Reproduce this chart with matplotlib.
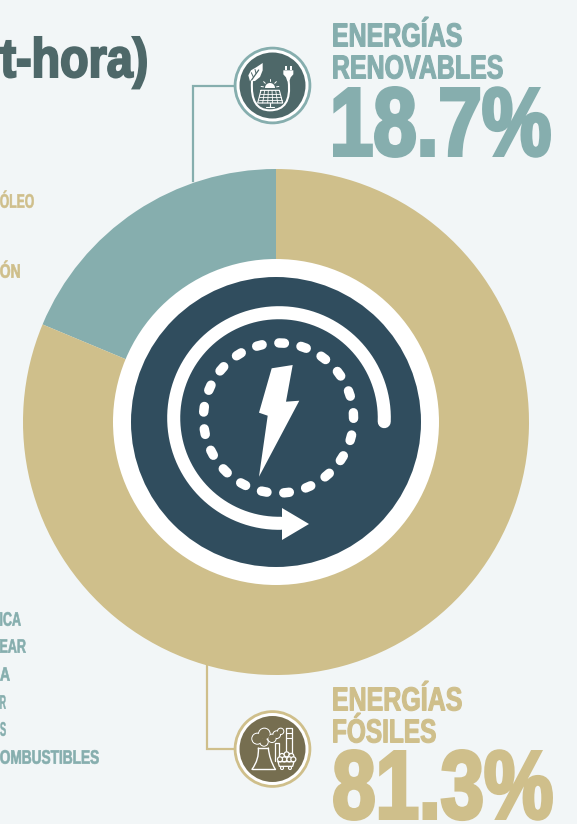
import matplotlib
matplotlib.use("Agg")
import matplotlib.pyplot as plt
import numpy as np
from matplotlib.font_manager import FontProperties
from matplotlib.patches import Circle, Polygon, PathPatch
from matplotlib.path import Path
from matplotlib.patheffects import AbstractPathEffect
from matplotlib.textpath import TextPath
from matplotlib.transforms import Affine2D

W, H = 577, 824
BG = "#f2f6f7"
TEAL = "#86aeae"
SAND = "#cfbf8b"
NAVY = "#304d5e"
SLATE = "#4e6869"
OLIVE = "#766e50"

labels = ["Energías renovables", "Energías fósiles"]
shares = [18.7, 81.3]
share_texts = ["18.7%", "81.3%"]
title_fragment = "t-hora)"
left_sand = ["ÓLEO", "ÓN"]
left_teal = ["ICA", "EAR", "A", "R", "S", "OMBUSTIBLES"]

def Y(y):
    return H - y

class Heavy(AbstractPathEffect):
    """Scale glyphs vertically about the baseline and thicken them (heavy condensed look)."""
    def __init__(self, sy, y0, stroke_px, shift=0):
        super().__init__()
        self.sy, self.y0, self.stroke, self.shift = sy, y0, stroke_px, shift
    def draw_path(self, renderer, gc, tpath, affine, rgbFace=None):
        a = affine + Affine2D().translate(0, -self.y0).scale(1, self.sy).translate(0, self.y0 - self.shift)
        gc0 = renderer.new_gc()
        gc0.copy_properties(gc)
        gc0.set_foreground(rgbFace)
        gc0.set_linewidth(self.stroke*0.72)
        gc0.set_joinstyle("miter")
        renderer.draw_path(gc0, tpath, a, rgbFace)
        gc0.restore()

fig = plt.figure(figsize=(W/100, H/100), dpi=100, facecolor=BG)
ax = fig.add_axes([0, 0, 1, 1])

FONT = FontProperties(family="Liberation Sans", weight="bold")
CAP = 0.688
BOLD = 0.045
def fit(x, base, s, width, cap, color, shift=0):
    """Real text, sized to the measured width, stretched to the measured cap height."""
    unit = TextPath((0, 0), s, size=1, prop=FONT).get_extents()
    em = width / (unit.width + BOLD)
    b = BOLD*em
    y = Y(base) + b/2 + shift
    ax.text(x + b/2 - unit.x0*em, y, s, fontsize=em*0.72, color=color, fontproperties=FONT,
            ha="left", va="baseline", zorder=8,
            path_effects=[Heavy((cap - b)/(CAP*em), y, b, shift)])

# donut
ax.pie(shares, colors=[TEAL, SAND], startangle=90, counterclock=True, center=(276, Y(422)),
       radius=253, wedgeprops=dict(linewidth=0), frame=False)
ax.set_aspect("auto"); ax.set_xlim(0, W); ax.set_ylim(0, H); ax.axis("off")
ax.add_patch(Circle((276, Y(422)), 163, fc="white", ec="none", zorder=3))
ax.add_patch(Circle((276, Y(422)), 145, fc=NAVY, ec="none", zorder=4))

# arrow arc
cx, cy, r = 279, 418, 105.3
a = np.radians(np.linspace(-2, 271, 300))
ax.plot(cx + r*np.cos(a), Y(cy) + r*np.sin(a), color="white", lw=9.4, solid_capstyle="round", zorder=5)
ax.add_patch(Polygon([(282, Y(508)), (309, Y(524)), (282, Y(540))], fc="white", ec="none", zorder=6))
# dashed ring
for k in range(21):
    th = np.radians(2.4 + k*360/21)
    x, y = 278.5 + 75*np.sin(th), Y(418) + 75*np.cos(th)
    dx, dy = np.cos(th)*2.8, -np.sin(th)*2.8
    ax.plot([x-dx, x+dx], [y-dy, y+dy], color="white", lw=6.8, solid_capstyle="round", zorder=5)
# bolt
bolt = [(271.7, 368.3), (292.7, 365), (286, 401.7), (299.3, 400.7), (259, 476.7), (267.7, 415.7), (259, 412.7)]
ax.add_patch(Polygon([(x, Y(y)) for x, y in bolt], fc="white", ec="none", zorder=6))

# connectors
ax.plot([193, 193, 235], [Y(181), Y(86), Y(86)], color=TEAL, lw=1.6, zorder=1, solid_joinstyle="miter")
ax.plot([207, 207, 235], [Y(665), Y(749), Y(749)], color=SAND, lw=1.6, zorder=1, solid_joinstyle="miter")

# badges
def badge(cx, cy, ring, fill):
    ax.add_patch(Circle((cx, Y(cy)), 38.8, fc=ring, ec="none", zorder=3))
    ax.add_patch(Circle((cx, Y(cy)), 36, fc="white", ec="none", zorder=3))
    ax.add_patch(Circle((cx, Y(cy)), 33, fc=fill, ec="none", zorder=3))
badge(272.5, 85.5, TEAL, SLATE)
badge(272.5, 749, SAND, OLIVE)

# icon helpers: coordinates are read in a 3x crop whose corner is (ox, oy)
def icon(ox, oy):
    conv = lambda p: [(ox + x/3, Y(oy + y/3)) for x, y in p]
    def line(p, lw=0.9, color="white"):
        pts = conv(p)
        ax.plot(*zip(*pts), color=color, lw=lw, zorder=6, solid_capstyle="round", solid_joinstyle="round")
    def curve(p, lw=0.9):
        pts = conv(p)
        codes = [Path.MOVETO] + [Path.CURVE3]*(len(pts)-1)
        ax.add_patch(PathPatch(Path(pts, codes), fc="none", ec="white", lw=lw, zorder=6, capstyle="round"))
    def poly(p, fill="white"):
        ax.add_patch(Polygon(conv(p), closed=True, fc=fill, ec="none", zorder=6))
    def disc(x, y, rad, fill="none", lw=0.9, z=6):
        (cx_, cy_), = conv([(x, y)])
        ax.add_patch(Circle((cx_, cy_), rad/3, fc=fill, ec="white" if lw else "none", lw=lw, zorder=z))
    return line, curve, poly, disc

# renewables icon
line, curve, poly, disc = icon(230, 42)
poly([(60, 118), (55, 100), (63, 85), (80, 75), (98, 63), (98, 85), (90, 105), (75, 117)])
line([(62, 118), (86, 84)], 0.9, SLATE)
line([(70, 105), (64, 92)], 0.7, SLATE)
line([(78, 94), (75, 82)], 0.7, SLATE)
curve([(66, 118), (60, 205), (120, 205), (186, 205), (176, 118)], 1.5)
poly([(160, 85), (190, 85), (190, 97), (182, 106), (178, 118), (172, 118), (168, 106), (160, 97)])
poly([(164, 72), (170, 72), (170, 85), (164, 85)])
poly([(180, 72), (186, 72), (186, 85), (180, 85)])
theta = np.radians(np.linspace(0, 180, 20))
poly(list(zip(120 + 15*np.cos(theta), 138 - 15*np.sin(theta))))
for deg in [10, 45, 90, 135, 170]:
    t = np.radians(deg)
    line([(120 + 20*np.cos(t), 138 - 20*np.sin(t)), (120 + 27*np.cos(t), 138 - 27*np.sin(t))], 0.7)
line([(93, 145), (148, 145), (158, 183), (83, 183), (93, 145)], 0.8)
for u in [0.25, 0.5, 0.75]:
    line([(93 - 10*u, 145 + 38*u), (148 + 10*u, 145 + 38*u)], 0.6)
for u in [0.2, 0.4, 0.6, 0.8]:
    line([(93 + 55*u, 145), (83 + 75*u, 183)], 0.6)
line([(120, 183), (120, 194)], 0.8)
line([(108, 195), (132, 195)], 0.8)

# fossil icon
line, curve, poly, disc = icon(230, 706)
line([(85, 126), (115, 126)], 1.0)
curve([(85, 126), (88, 160), (66, 190)], 1.0)
curve([(115, 126), (118, 160), (136, 190)], 1.0)
line([(66, 190), (136, 190)], 1.0)
cloud = [(82, 98, 16), (103, 84, 17), (126, 97, 12), (140, 86, 11), (152, 76, 9), (102, 108, 12)]
for x, y, rad in cloud:
    disc(x, y, rad, fill="none", lw=1.0)
for x, y, rad in cloud:
    disc(x, y, rad - 1, fill=OLIVE, lw=0, z=6.1)
line([(135, 112), (148, 112), (148, 150)], 0.9)
line([(135, 112), (135, 165)], 0.9)
line([(168, 66), (186, 66), (186, 142), (168, 142), (168, 66)], 0.9)
line([(168, 82), (186, 82)], 0.8)
line([(168, 96), (186, 96)], 0.8)
coal = [(156, 150), (170, 145), (184, 150), (163, 160), (178, 160), (150, 160), (190, 160)]
for x, y in coal:
    disc(x, y, 7.5, fill=OLIVE, lw=0.9)
line([(144, 167), (192, 167), (188, 181), (148, 181), (144, 167)], 0.9)
disc(156, 186, 4.5, fill=OLIVE, lw=0.8)
disc(180, 186, 4.5, fill=OLIVE, lw=0.8)

# big labels
fit(333, 47, "ENERGÍAS", 129, 24, TEAL)
fit(333, 79, "RENOVABLES", 170, 24, TEAL)
fit(333, 157, share_texts[0], 218, 70, TEAL)
fit(333, 711, "ENERGÍAS", 129, 24, SAND)
fit(333, 743, "FÓSILES", 103, 24, SAND)
fit(333, 820, share_texts[1], 220, 70, SAND, shift=14)
fit(0, 78, title_fragment, 147, 40, SLATE)

# side labels cut by the picture's edge
for base, s, w in zip([208, 278], left_sand, [34, 20]):
    fit(0, base, s, w, 14, SAND)
for base, s, w in zip([626, 653, 681, 709, 736, 764], left_teal, [21, 26, 10, 6, 6, 99]):
    fit(0, base, s, w, 14, TEAL)

fig.savefig("out.png", dpi=100, facecolor=BG)
